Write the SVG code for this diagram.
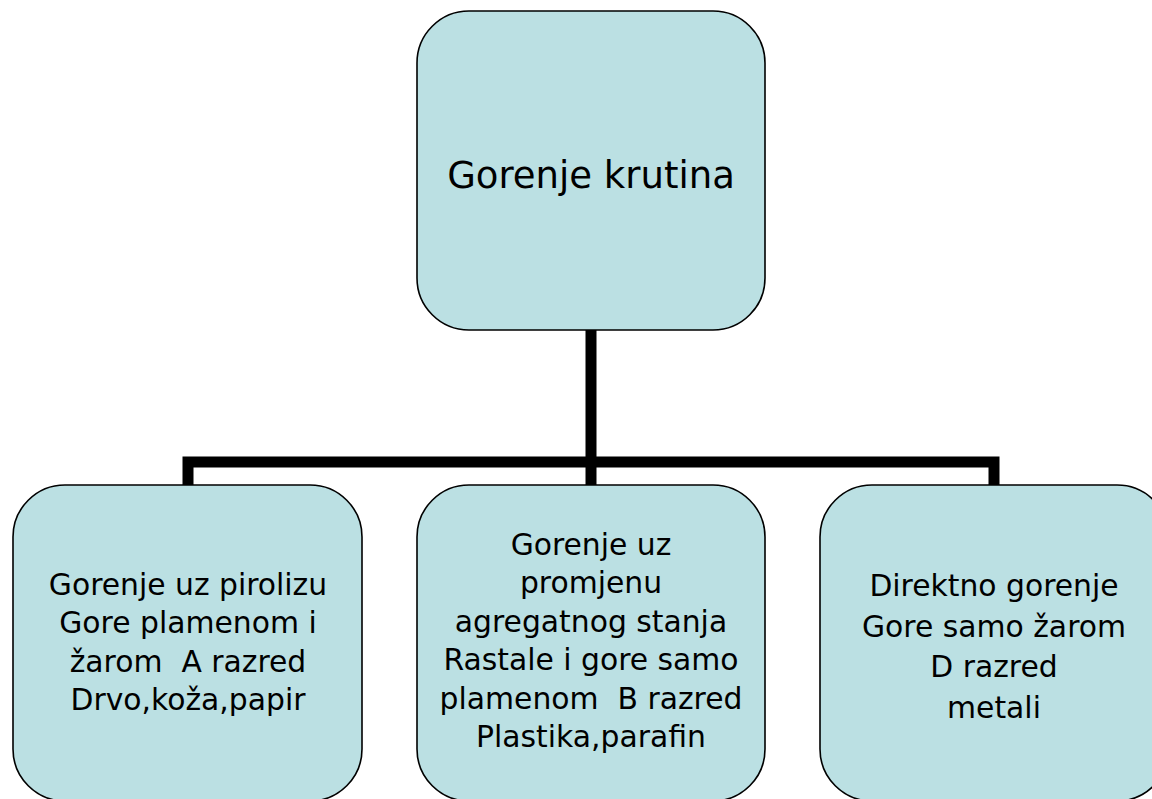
<svg xmlns="http://www.w3.org/2000/svg" width="1152" height="799" viewBox="0 0 1152 799">
<style>
.box{fill:#BBE0E3;stroke:#000;stroke-width:1.6}
.t{font-family:"DejaVu Sans","Liberation Sans",sans-serif;fill:#000;text-anchor:middle;white-space:pre}
.big{font-size:37px}
.sm{font-size:29.8px}
.conn{fill:none;stroke:#000;stroke-width:11;stroke-linejoin:miter;stroke-linecap:butt}
</style>
<rect width="1152" height="799" fill="#fff"/>
<g id="connectors">
<path class="conn" d="M591 330 V462"/>
<path class="conn" d="M188 485 V462 H994 V485"/>
<path class="conn" d="M591 462 V485"/>
</g>
<g id="root">
<rect class="box" x="417" y="11" width="348" height="319" rx="52" ry="52"/>
<text class="t big" x="591" y="188">Gorenje krutina</text>
</g>
<g id="left">
<rect class="box" x="13" y="485" width="349" height="316" rx="52" ry="52"/>
<text class="t sm" xml:space="preserve"><tspan x="188" y="595">Gorenje uz pirolizu</tspan><tspan x="188" y="633.3">Gore plamenom i</tspan><tspan x="188" y="671.6">žarom  A razred</tspan><tspan x="188" y="710">Drvo,koža,papir</tspan></text>
</g>
<g id="middle">
<rect class="box" x="417" y="485" width="348" height="316" rx="52" ry="52"/>
<text class="t sm" xml:space="preserve"><tspan x="591" y="555">Gorenje uz</tspan><tspan x="591" y="593.4">promjenu</tspan><tspan x="591" y="631.8">agregatnog stanja</tspan><tspan x="591" y="670.2">Rastale i gore samo</tspan><tspan x="591" y="708.6">plamenom  B razred</tspan><tspan x="591" y="747">Plastika,parafin</tspan></text>
</g>
<g id="right">
<rect class="box" x="820" y="485" width="349" height="316" rx="52" ry="52"/>
<text class="t sm" xml:space="preserve"><tspan x="994" y="596">Direktno gorenje</tspan><tspan x="994" y="636.5">Gore samo žarom</tspan><tspan x="994" y="677">D razred</tspan><tspan x="994" y="717.5">metali</tspan></text>
</g>
</svg>
